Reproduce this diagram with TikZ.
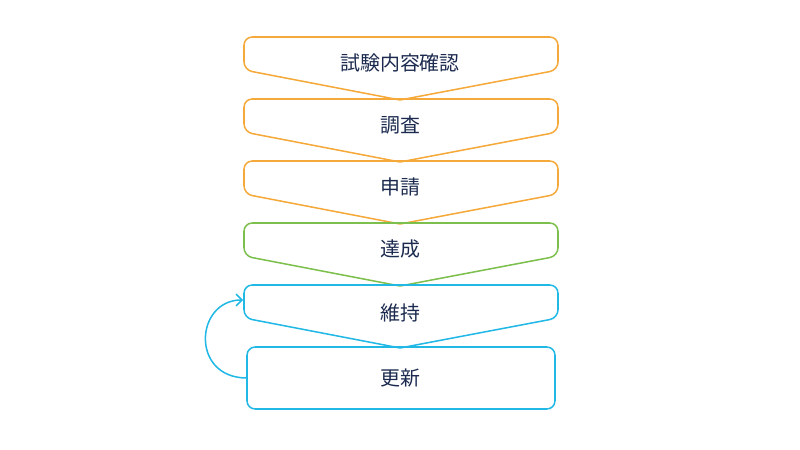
\documentclass[tikz,border=0pt]{standalone}
\usepackage{fontspec}
\newfontfamily\jpfont{Noto Sans CJK JP}
\usetikzlibrary{arrows.meta}
\definecolor{stepor}{HTML}{F5A93A}
\definecolor{stepgr}{HTML}{7CBF4C}
\definecolor{stepcy}{HTML}{22B8E6}
\definecolor{textnv}{HTML}{1B2A4E}
\newcommand{\chevstep}[2]{% top y, colour
  \draw[#2, line width = 1.3pt, rounded corners = 7pt]
    (400,#1+63) -- (244,#1+33) -- (244,#1) -- (558,#1) -- (558,#1+33) -- (400,#1+63);}
\begin{document}
\begin{tikzpicture}[
      x = 0.03cm, y = -0.03cm,
      every node/.style = {
        text = textnv, font = \jpfont\fontsize{17}{20}\selectfont}
      ]
    \useasboundingbox (0,0) rectangle (800,450);

    \chevstep{37}{stepor}
    \chevstep{99}{stepor}
    \chevstep{161}{stepor}
    \chevstep{223}{stepgr}
    \chevstep{285}{stepcy}
    \draw[stepcy, line width = 1.3pt, rounded corners = 7pt]
      (247,347) rectangle (555,409);

    \node (A) at (400,63) {試験内容確認};
    \node (B) at (400,125) {調査};
    \node (C) at (400,187) {申請};
    \node (D) at (400,249) {達成};
    \node (E) at (400,313) {維持};
    \node (F) at (400,378) {更新};

    \coordinate (Fw) at (247,378);
    \coordinate (Ew) at (243,300);
    \draw[stepcy, line width = 1.3pt, -{Straight Barb[length=5pt]}]
      (Fw) .. controls (190,378) and (195,300) .. (Ew);
  \end{tikzpicture}
\end{document}
